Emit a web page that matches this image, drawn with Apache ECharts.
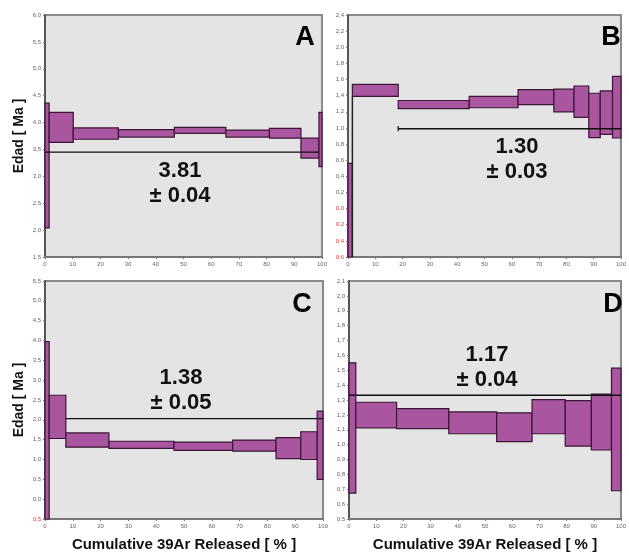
<!DOCTYPE html>
<html>
<head>
<meta charset="utf-8">
<script src="https://cdn.jsdelivr.net/npm/echarts@6/dist/echarts.min.js"></script>
<style>
  html, body { margin: 0; padding: 0; background: #fff; }
  #main { width: 629px; height: 553px; }
</style>
</head>
<body>
<div id="main"></div>
<script>
// step boundaries (cumulative %), and the low / high age of each step [Ma]
var edgesA = [0, 1.5, 10.2, 26.5, 46.7, 65.3, 81.0, 92.4, 98.9, 100];
var lowA = [2.04, 3.63, 3.69, 3.73, 3.80, 3.73, 3.71, 3.34, 3.18];
var highA = [4.36, 4.19, 3.90, 3.87, 3.91, 3.86, 3.89, 3.71, 4.19];

var edgesB = [0, 1.6, 18.4, 44.4, 62.3, 75.4, 82.8, 88.2, 92.4, 96.9, 100];
var lowB = [-0.6, 1.39, 1.24, 1.25, 1.29, 1.20, 1.13, 0.88, 0.92, 0.875];
var highB = [0.56, 1.54, 1.34, 1.39, 1.475, 1.48, 1.52, 1.43, 1.46, 1.64];

var edgesC = [0, 1.5, 7.5, 23.0, 46.4, 67.5, 83.1, 92.0, 97.9, 100];
var lowC = [-0.5, 1.53, 1.31, 1.28, 1.23, 1.21, 1.02, 1.00, 0.50];
var highC = [3.97, 2.62, 1.67, 1.46, 1.44, 1.49, 1.55, 1.70, 2.22];

var edgesD = [0, 2.5, 17.5, 36.7, 54.3, 67.3, 79.5, 89.1, 96.5, 100];
var lowD = [0.674, 1.113, 1.107, 1.073, 1.02, 1.073, 0.99, 0.964, 0.69];
var highD = [1.55, 1.285, 1.242, 1.22, 1.214, 1.303, 1.296, 1.34, 1.514];

// plateau line: [from %, to %, age as drawn]
var plateauA = [0, 99, 3.45];
var plateauB = [18.4, 100, 0.99];
var plateauC = [7.5, 100, 2.03];
var plateauD = [0, 100, 1.332];

var plateauText = ['3.81\n± 0.04', '1.30\n± 0.03', '1.38\n± 0.05', '1.17\n± 0.04'];
var panelLetters = ['A', 'B', 'C', 'D'];

// y axis ranges [min, max, interval]
var yRanges = [[1.5, 6.0, 0.5], [-0.6, 2.4, 0.2], [-0.5, 5.5, 0.5], [0.5, 2.1, 0.1]];

var chartDom = document.getElementById('main');
var myChart = echarts.init(chartDom);
var option;

var fillColor = '#a9559f';
var edgeColor = '#3b1636';

function steps(edges, low, high) {
    var out = [];
    for (var i = 0; i < low.length; i++) {
        out.push([edges[i], edges[i + 1], low[i], high[i]]);
    }
    return out;
}

function renderStep(params, api) {
    var p0 = api.coord([api.value(0), api.value(3)]);
    var p1 = api.coord([api.value(1), api.value(2)]);
    var rect = echarts.graphic.clipRectByRect({
        x: p0[0], y: p0[1], width: p1[0] - p0[0], height: p1[1] - p0[1]
    }, {
        x: params.coordSys.x, y: params.coordSys.y,
        width: params.coordSys.width, height: params.coordSys.height
    });
    return rect && {
        type: 'rect',
        shape: rect,
        style: { fill: fillColor, stroke: edgeColor, lineWidth: 1.2 }
    };
}

function yLabel(redFrom) {
    return function (v) {
        var s = Math.abs(v).toFixed(1).replace('.', ',');
        return v <= redFrom ? '{r|' + s + '}' : s;
    };
}

var grids = [
    { left: 45, top: 15, width: 277, height: 242 },
    { left: 348, top: 15, width: 279, height: 242 },
    { left: 45, top: 281, width: 278, height: 239 },
    { left: 349, top: 281, width: 278, height: 239 }
];
var redFrom = [-1, 0.001, -0.01, -1];
var stepData = [
    steps(edgesA, lowA, highA), steps(edgesB, lowB, highB),
    steps(edgesC, lowC, highC), steps(edgesD, lowD, highD)
];
var plateaus = [plateauA, plateauB, plateauC, plateauD];

option = {
    animation: false,
    grid: grids.map(function (g) {
        return Object.assign({
            show: true, backgroundColor: '#e4e4e4', borderColor: '#8a8a8a', borderWidth: 2
        }, g);
    }),
    xAxis: grids.map(function (g, i) {
        return {
            gridIndex: i, type: 'value', min: 0, max: 100, interval: 10,
            splitLine: { show: false },
            axisLine: { onZero: false, lineStyle: { color: '#777', width: 2 } },
            axisTick: { length: 2, lineStyle: { color: '#777' } },
            axisLabel: { fontSize: 6, color: '#666', margin: 4, fontFamily: 'Liberation Sans' },
            name: i >= 2 ? 'Cumulative 39Ar Released [ % ]' : '',
            nameLocation: 'middle', nameGap: 18,
            nameTextStyle: { fontSize: 15, fontWeight: 'bold', color: '#111', fontFamily: 'Liberation Sans' }
        };
    }),
    yAxis: yRanges.map(function (r, i) {
        return {
            gridIndex: i, type: 'value', min: r[0], max: r[1], interval: r[2],
            splitLine: { show: false },
            axisLine: { show: true, onZero: false, lineStyle: { color: '#555', width: 2 } },
            axisTick: { show: true, length: 2, lineStyle: { color: '#777' } },
            axisLabel: {
                fontSize: 6, color: '#666', margin: 4, fontFamily: 'Liberation Sans',
                formatter: yLabel(redFrom[i]),
                rich: { r: { fontSize: 6, color: '#ff3030', fontFamily: 'Liberation Sans' } }
            },
            name: (i % 2 === 0) ? 'Edad [ Ma ]' : '',
            nameLocation: 'middle', nameGap: 19, nameRotate: 90,
            nameTextStyle: { fontSize: 14, fontWeight: 'bold', color: '#111', fontFamily: 'Liberation Sans' }
        };
    }),
    series: [],
    graphic: []
};

stepData.forEach(function (d, i) {
    option.series.push({
        type: 'custom', xAxisIndex: i, yAxisIndex: i,
        renderItem: renderStep, data: d, z: 3,
        encode: { x: [0, 1], y: [2, 3] }
    });
    var p = plateaus[i];
    option.series.push({
        type: 'line', xAxisIndex: i, yAxisIndex: i, z: 4,
        data: [[p[0], p[2]], [p[1], p[2]]],
        symbol: 'none',
        lineStyle: { color: '#111', width: 1.3 }
    });
});

// vertical connector under the second step of B
option.series.push({
    type: 'line', xAxisIndex: 1, yAxisIndex: 1, z: 4,
    data: [[edgesB[1], lowB[0]], [edgesB[1], lowB[1]]],
    symbol: 'none',
    lineStyle: { color: '#222', width: 1.5 }
});
// end cap of the B plateau line
option.series.push({
    type: 'line', xAxisIndex: 1, yAxisIndex: 1, z: 4,
    data: [[plateauB[0], plateauB[2] - 0.03], [plateauB[0], plateauB[2] + 0.03]],
    symbol: 'none',
    lineStyle: { color: '#111', width: 1.3 }
});

var letterPos = [[305, 38], [611, 38], [302, 305], [613, 305]];
var textPos = [[180, 183], [517, 159], [181, 390], [487, 367]];
panelLetters.forEach(function (l, i) {
    option.graphic.push({
        type: 'text', x: letterPos[i][0], y: letterPos[i][1], z: 10,
        style: {
            text: l, fill: '#000', font: 'bold 27px "Liberation Sans"',
            align: 'center', verticalAlign: 'middle'
        }
    });
    option.graphic.push({
        type: 'text', x: textPos[i][0], y: textPos[i][1], z: 10,
        style: {
            text: plateauText[i], fill: '#111', font: 'bold 22px "Liberation Sans"',
            align: 'center', verticalAlign: 'middle', lineHeight: 25
        }
    });
});

option && myChart.setOption(option);
</script>
</body>
</html>
